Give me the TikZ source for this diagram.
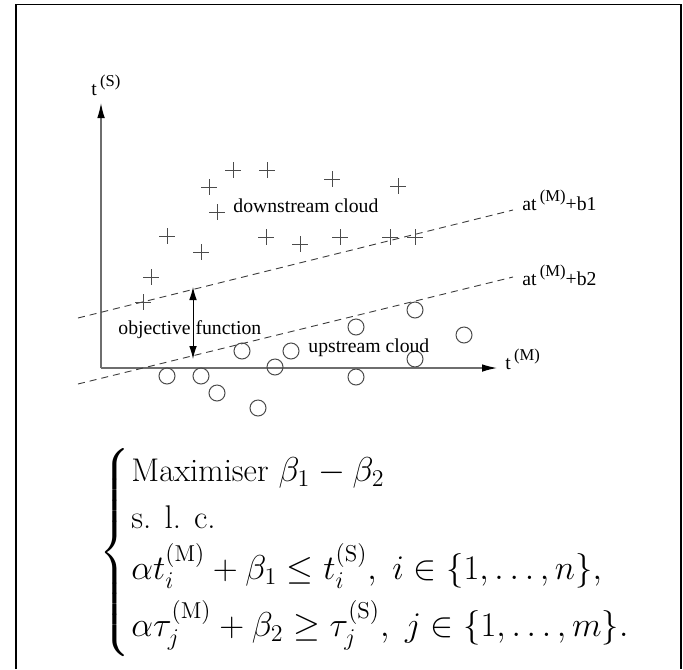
\documentclass[tikz,border=0pt]{standalone}
\usepackage{amsmath}
\usepackage{fontspec}
\newfontfamily\figfont{Liberation Serif}
\usetikzlibrary{arrows.meta,positioning,calc}
\definecolor{axisgray}{RGB}{110,110,110}
\definecolor{markgray}{RGB}{75,75,75}
\definecolor{dashgray}{RGB}{60,60,60}
\newcommand{\raisedlbl}[1]{\raisebox{0.42em}{\fontsize{8.3}{9}\selectfont #1}}

\begin{document}
\begin{tikzpicture}[
  x=0.5pt, y=-0.5pt,
  axis/.style={draw=axisgray, line width=0.6pt, -{Latex[black, length=7.5pt, width=3.8pt]}},
  dashline/.style={draw=dashgray, line width=0.45pt, dash pattern=on 3.5pt off 2.5pt},
  plusmark/.style={inner sep=0, minimum size=8pt,
    path picture={\draw[markgray, line width=0.5pt]
      (path picture bounding box.north) -- (path picture bounding box.south)
      (path picture bounding box.west) -- (path picture bounding box.east);}},
  ringmark/.style={circle, draw=markgray, line width=0.5pt, inner sep=0, minimum size=8pt},
  lbl/.style={font=\figfont\fontsize{9.85}{12}\selectfont, inner sep=0, text=black},
  prog/.style={font=\fontsize{16.4}{20}\selectfont, inner sep=0, text=black},
  frame/.style={draw=black, line width=0.8pt}
]
\useasboundingbox (0,0) rectangle (683,669);

% --- Frame ---
\draw[frame] (16,669) |- (681,4.5) -- (681,669);

% --- Axes ---
\coordinate (O) at (101,368);
\coordinate (ytip) at (101,103);
\coordinate (xtip) at (497,368);
\draw[axis] (O) -- (ytip);
\draw[axis] (O) -- (xtip);
\node[lbl, anchor=base west] (tS) at (91,95) {t\,\raisedlbl{(S)}};
\node[lbl, anchor=base west] (tM) at (505,369) {t\,\raisedlbl{(M)}};

% --- Separating lines ---
\coordinate (b1w) at (78,318);
\coordinate (b1e) at (513,210);
\coordinate (b2w) at (78,384);
\coordinate (b2e) at (513,277);
\draw[dashline] (b1w) -- (b1e);
\draw[dashline] (b2w) -- (b2e);
\node[lbl, anchor=base west] (b1lbl) at (522,210) {at\,\raisedlbl{(M)}+b1};
\node[lbl, anchor=base west] (b2lbl) at (522,285) {at\,\raisedlbl{(M)}+b2};

% --- Downstream cloud ---
\foreach \px/\py [count=\i] in {209/187, 233/170, 267/170, 332/179, 398/186,
    217/212, 167/236, 201/252, 266/237, 300/244, 340/237, 390/237, 415/237,
    151/277, 143/302}
  \node[plusmark] (p\i) at (\px,\py) {};
\node[lbl, anchor=base west] (down) at (233,212) {downstream cloud};

% --- Upstream cloud ---
\foreach \cx/\cy [count=\i] in {167/376, 201/376, 217/393, 258/408, 242/351,
    275/367, 291/351, 356/327, 356/377, 415/310, 415/359, 464/335}
  \node[ringmark] (c\i) at (\cx,\cy) {};
\node[lbl, anchor=base west] (up) at (308,352) {upstream cloud};

% --- Objective ---
\node[lbl, anchor=base west] (obj) at (118,334) {objective function};
\coordinate (objtop) at (193,287);
\coordinate (objbot) at (193,359);
\draw[black, line width=0.5pt, {Latex[length=6.5pt, width=3.8pt]}-{Latex[length=6.5pt, width=3.8pt]}] (objtop) -- (objbot);

% --- Program ---
\node[prog] (brace) at (114.5,552.5) {$\nulldelimiterspace=0pt \delimitershortfall=0pt \delimiterfactor=1000
  \left\{\vcenter{\hrule height 95.5pt width 0pt}\right.$};
\node[prog, anchor=base west] (maxline) at (131,481) {Maximiser $\beta_1-\beta_2$};
\node[prog, anchor=base west] (slc) at (131,528) {s. l. c.};
\node[prog, anchor=base west] (cons1) at (131,579)
  {$\alpha t_i^{(\mathrm{M})}+\beta_1\le t_i^{(\mathrm{S})},\ i\in\{1,\ldots,n\},$};
\node[prog, anchor=base west] (cons2) at (131,636)
  {$\alpha\tau_j^{(\mathrm{M})}+\beta_2\ge \tau_j^{(\mathrm{S})},\ j\in\{1,\ldots,m\}.$};

\end{tikzpicture}
\end{document}
